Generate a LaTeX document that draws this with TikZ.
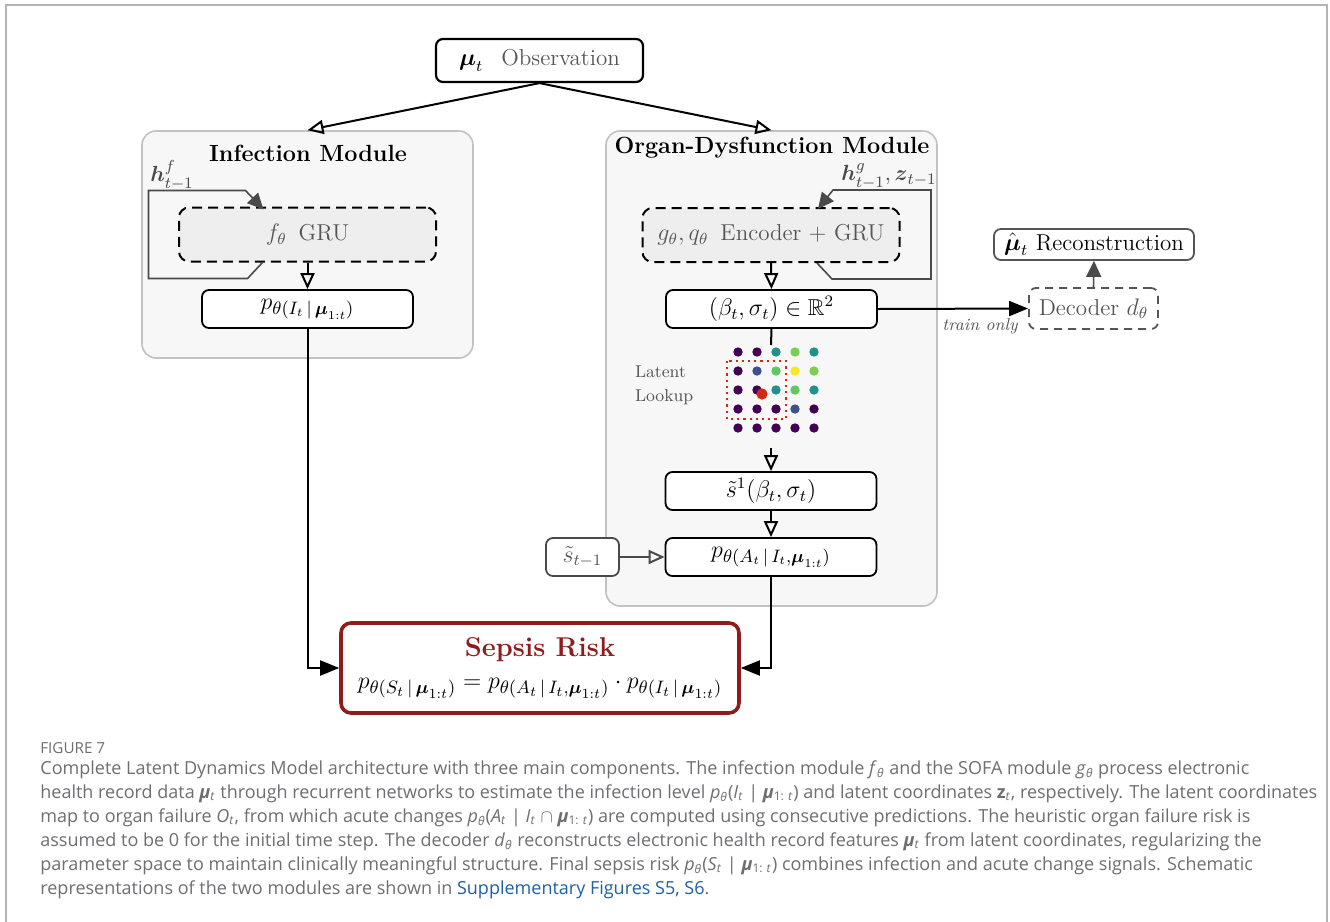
\documentclass[tikz,border=0pt]{standalone}
\usepackage{amsmath,amssymb}
\usepackage{fontspec}
\newfontfamily\capfont{Open Sans}
\usepackage{tikz}
\usetikzlibrary{positioning,calc,backgrounds,arrows.meta}

\definecolor{modfill}{HTML}{F7F7F7}
\definecolor{modline}{HTML}{C2C2C2}
\definecolor{grufill}{HTML}{EEEEEE}
\definecolor{txtgray}{HTML}{555555}
\definecolor{loopgray}{HTML}{4A4A4A}
\definecolor{sepsisred}{HTML}{8E1C1C}
\definecolor{capgray}{HTML}{6D6E71}
\definecolor{caplink}{HTML}{1F5FA6}
\definecolor{framegray}{HTML}{B4B4B4}
\definecolor{lookred}{HTML}{D42A0C}
% viridis samples for the latent grid
\definecolor{vP}{HTML}{440154}
\definecolor{vB}{HTML}{3B528B}
\definecolor{vT}{HTML}{21918C}
\definecolor{vG}{HTML}{5EC962}
\definecolor{vL}{HTML}{7AD151}
\definecolor{vY}{HTML}{FDE725}

\newcommand{\bmu}{\boldsymbol{\mu}}
\newcommand{\capsub}[2]{\textit{#1}\textsubscript{\textit{#2}}}
\newcommand{\capmu}{\textbf{\textit{μ}}}

\begin{document}
\begin{tikzpicture}[x=0.5pt,y=-0.5pt,
    every node/.style={font=\fontsize{11.5}{13.8}\selectfont},
    module/.style={draw=modline, line width=0.8pt, fill=modfill, rounded corners=7pt, inner sep=0},
    modtitle/.style={font=\fontsize{11.7}{14}\selectfont\bfseries},
    gru/.style={draw, dash pattern=on 5pt off 3pt, line width=1pt, fill=grufill, rounded corners=5pt,
                minimum width=128.5pt, minimum height=27pt, inner sep=0, text=txtgray},
    outbox/.style={draw, line width=0.9pt, fill=white, rounded corners=3.5pt,
                   minimum width=105.5pt, minimum height=19pt, inner sep=0},
    probfont/.style={font=\fontsize{13}{15}\selectfont},
    openarr/.style={-{Triangle[open,length=8pt,width=7pt]}, line width=1pt},
    fullarr/.style={-{Triangle[length=9.5pt,width=7.5pt]}, line width=1pt},
    loopline/.style={draw=loopgray, line width=0.8pt, -{Triangle[length=8pt,width=7.5pt]}},
    dot/.style={circle, inner sep=0, minimum size=4.7pt}]

    \useasboundingbox (0,0) rectangle (1330,922);
    \draw[framegray, line width=1pt] (6,922) -- (6,5) -- (1327,5) -- (1327,922);

    % the two modules
    \node[module, minimum width=165.5pt, minimum height=113.5pt] (infmod) at (307.5,244.5) {};
    \node[module, minimum width=165.5pt, minimum height=237.5pt] (orgmod) at (771.5,368.5) {};
    \node[modtitle] (inftitle) at (308,153) {Infection Module};
    \node[modtitle] (orgtitle) at (772,148) {Organ-Dysfunction Module};

    \node[outbox, minimum width=103.5pt, minimum height=21.5pt, line width=1.1pt] (obs) at (539.5,60.5)
        {$\bmu_t$\hspace{9pt}\textcolor{txtgray}{Observation}};

    % infection branch
    \node[gru] (fgru) at (307.5,234.5) {$f_\theta$\hspace{6pt}GRU};
    \node[outbox, probfont] (pinf) at (307.5,309) {$p_{\theta(I_t\,|\,\bmu_{1:t})}$};
    \node[text=loopgray, font=\fontsize{11}{13}\selectfont] (hf) at (172,175) {$\boldsymbol{h}^{f}_{t-1}$};

    % organ branch
    \node[gru] (ggru) at (771,235) {$g_\theta, q_\theta$\hspace{6pt}Encoder + GRU};
    \node[outbox] (beta) at (771.5,309) {$(\beta_t,\sigma_t)\in\mathbb{R}^2$};
    \node[text=loopgray, font=\fontsize{11}{13}\selectfont] (hg) at (889,176) {$\boldsymbol{h}^{g}_{t-1}, \boldsymbol{z}_{t-1}$};
    \node[outbox] (sone) at (771,491) {$\tilde{s}^1(\beta_t,\sigma_t)$};
    \node[outbox, probfont] (pA) at (771,557) {$p_{\theta(A_t\,|\,I_t,\bmu_{1:t})}$};
    \node[outbox, draw=loopgray, minimum width=36.5pt, text=txtgray] (sprev) at (582.5,557) {$\tilde{s}_{t-1}$};

    % latent lookup grid
    \coordinate (gridtop) at (771,345);
    \coordinate (gridbot) at (771,448);
    \node[anchor=west, align=left, text=txtgray, font=\fontsize{8.6}{12}\selectfont] (lookup) at (628,385) {Latent\\Lookup};
    \foreach \row [count=\r from 0] in {{vP,vP,vT,vL,vT},{vP,vB,vG,vY,vL},{vP,vP,vT,vG,vT},{vP,vP,vP,vB,vP},{vP,vP,vP,vP,vP}}
        \foreach \col [count=\c from 0] in \row
            \node[dot, fill=\col] (d\r\c) at (738+19*\c,352+19*\r) {};
    \draw[lookred, line width=1.1pt, dotted] (727,361) rectangle (786,419);
    \node[dot, fill=lookred, minimum size=5.6pt] (zdot) at (762,394) {};

    % decoder side
    \node[outbox, draw=txtgray, dash pattern=on 4pt off 3pt, minimum width=64.5pt, minimum height=20.5pt,
          text=txtgray, fill=none] (dec) at (1093.5,308.5) {Decoder $d_\theta$};
    \node[outbox, draw=txtgray, minimum width=100pt, minimum height=15.5pt] (recon) at (1094,244.5)
        {$\hat{\bmu}_t$ Reconstruction};

    % sepsis risk
    \node[draw=sepsisred, line width=1.8pt, rounded corners=5pt, fill=white, minimum width=199pt,
          minimum height=45pt, inner sep=0] (sepsis) at (540,668) {};
    \node[text=sepsisred, font=\fontsize{13.6}{16}\selectfont\bfseries] (sepsistitle) at (540,650) {Sepsis Risk};
    \node[font=\fontsize{13.1}{15}\selectfont] (sepsisform) at (540,688)
        {$p_{\theta(S_t\,|\,\bmu_{1:t})} = p_{\theta(A_t\,|\,I_t,\bmu_{1:t})}\cdot p_{\theta(I_t\,|\,\bmu_{1:t})}$};

    % connectors
    \draw[openarr] (obs.south) -- (infmod.north);
    \draw[openarr] (obs.south) -- (orgmod.north);
    \draw[openarr] (fgru.south) -- (pinf.north);
    \draw[openarr] (ggru.south) -- (beta.north);
    \draw[line width=1pt] (beta.south) -- (gridtop);
    \draw[openarr] (gridbot) -- (sone.north);
    \draw[openarr] (sone.south) -- (pA.north);
    \draw[openarr, draw=loopgray] (sprev.east) -- (pA.west);
    \draw[fullarr] (pinf.south) |- (sepsis.west);
    \draw[fullarr] (pA.south) |- (sepsis.east);
    \draw[fullarr] (beta.east) -- node[pos=0.68, below=1pt, text=txtgray, font=\fontsize{8.6}{10}\selectfont\itshape] (train) {train only} (dec.west);
    \draw[loopline] (dec.north) -- (recon.south);

    % recurrent feedback loops
    \draw[loopline] ($(fgru.south)+(-45,0)$) -- ++(-15,16) -- ++(-99,0) -- ++(0,-88) -- ++(97,0) -- ++(18,19);
    \draw[loopline] ($(ggru.south)+(46,0)$) -- ++(15,16) -- ++(99,0) -- ++(0,-89) -- ++(-98,0) -- ++(-15,19);

    % caption
    \node[anchor=west, inner sep=0, text=capgray, font=\capfont\fontsize{7.6}{9}\selectfont] (fignum) at (40,748) {FIGURE 7};
    \node[anchor=north west, align=left, inner sep=0, text=capgray, font=\capfont\fontsize{9}{12}\selectfont] (caption) at (40,760)
        {Complete Latent Dynamics Model architecture with three main components. The infection module \capsub{f}{θ} and the SOFA module \capsub{g}{θ} process electronic\\
         health record data \capmu\textsubscript{\textit{t}} through recurrent networks to estimate the infection level \capsub{p}{θ}(\capsub{I}{t} | \capmu\textsubscript{1: \textit{t}}) and latent coordinates \textbf{z}\textsubscript{\textit{t}}, respectively. The latent coordinates\\
         map to organ failure \capsub{O}{t}, from which acute changes \capsub{p}{θ}(\capsub{A}{t} | \capsub{I}{t} $\cap$ \capmu\textsubscript{1: \textit{t}}) are computed using consecutive predictions. The heuristic organ failure risk is\\
         assumed to be 0 for the initial time step. The decoder \capsub{d}{θ} reconstructs electronic health record features \capmu\textsubscript{\textit{t}} from latent coordinates, regularizing the\\
         parameter space to maintain clinically meaningful structure. Final sepsis risk \capsub{p}{θ}(\capsub{S}{t} | \capmu\textsubscript{1: \textit{t}}) combines infection and acute change signals. Schematic\\
         representations of the two modules are shown in \textcolor{caplink}{Supplementary Figures S5, S6}.};
\end{tikzpicture}
\end{document}
